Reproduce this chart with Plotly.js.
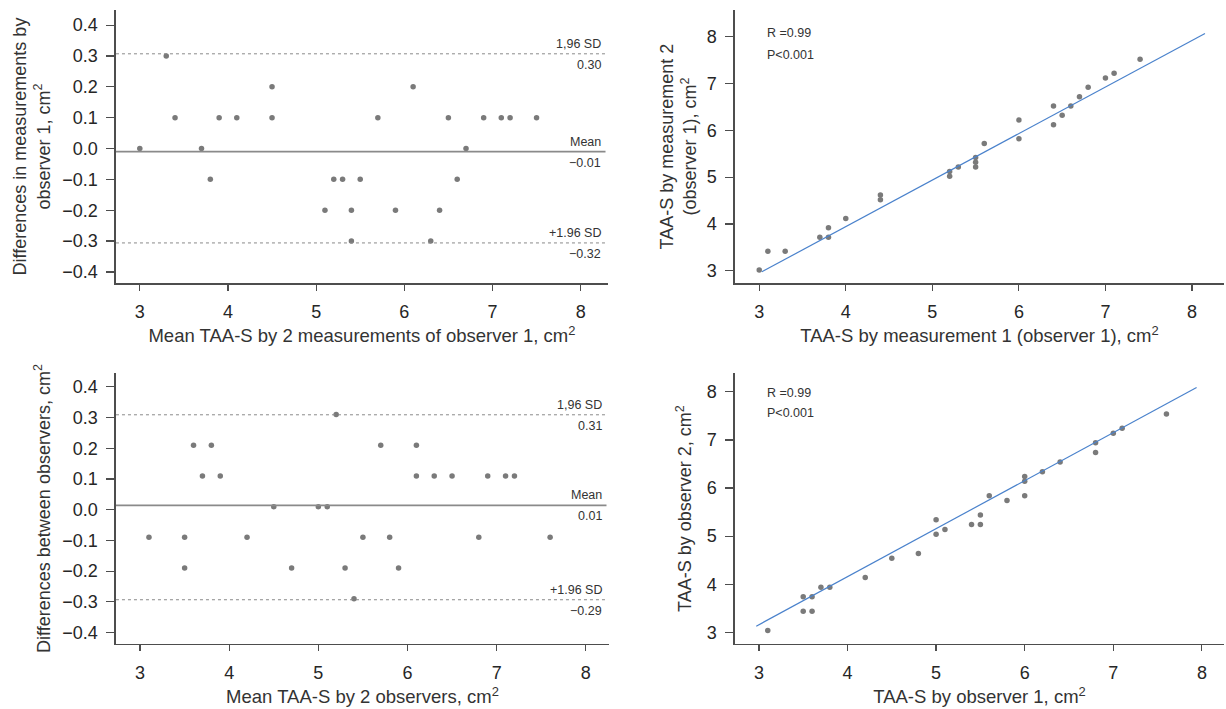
<!DOCTYPE html>
<html>
<head>
<meta charset="utf-8">
<script src="https://cdn.plot.ly/plotly-3.0.1.min.js"></script>
<style>html,body{margin:0;padding:0;background:#fff}#chart{width:1226px;height:709px}</style>
</head>
<body>
<div id="chart"></div>
<script>
// Panel A: Bland-Altman, intra-observer (observer 1)
const ba1X = [3.0,3.3,3.4,3.7,3.8,3.9,4.1,4.5,4.5,5.1,5.2,5.3,5.4,5.4,5.5,5.7,5.9,6.1,6.3,6.4,6.5,6.6,6.7,6.9,7.1,7.2,7.5];
const ba1Y = [0.0,0.3,0.1,0.0,-0.1,0.1,0.1,0.2,0.1,-0.2,-0.1,-0.1,-0.2,-0.3,-0.1,0.1,-0.2,0.2,-0.3,-0.2,0.1,-0.1,0.0,0.1,0.1,0.1,0.1];
const ba1Lines = [0.307, -0.01, -0.306];
const ba1Names = ["1,96 SD", "Mean", "+1.96 SD"];
const ba1Values = ["0.30", "\u22120.01", "\u22120.32"];

// Panel B: measurement 1 vs measurement 2 (observer 1)
const sc1X = [3.0,3.1,3.3,3.7,3.8,3.8,4.0,4.4,4.4,5.2,5.2,5.3,5.5,5.5,5.5,5.6,6.0,6.0,6.4,6.4,6.5,6.6,6.7,6.8,7.0,7.1,7.4];
const sc1Y = [3.02,3.42,3.42,3.72,3.72,3.92,4.12,4.62,4.52,5.12,5.02,5.22,5.42,5.32,5.22,5.72,6.22,5.82,6.52,6.12,6.32,6.52,6.72,6.92,7.12,7.22,7.52];
const fit1X = [3.03, 8.15];
const fit1Y = [2.98, 8.07];

// Panel C: Bland-Altman, inter-observer
const ba2X = [3.1,3.5,3.5,3.6,3.7,3.8,3.9,4.2,4.5,4.7,5.0,5.1,5.2,5.3,5.4,5.5,5.7,5.8,5.9,6.1,6.1,6.3,6.5,6.8,6.9,7.1,7.2,7.6];
const ba2Y = [-0.09,-0.09,-0.19,0.21,0.11,0.21,0.11,-0.09,0.01,-0.19,0.01,0.01,0.31,-0.19,-0.29,-0.09,0.21,-0.09,-0.19,0.21,0.11,0.11,0.11,-0.09,0.11,0.11,0.11,-0.09];
const ba2Lines = [0.309, 0.014, -0.293];
const ba2Names = ["1,96 SD", "Mean", "+1.96 SD"];
const ba2Values = ["0.31", "0.01", "\u22120.29"];

// Panel D: observer 1 vs observer 2
const sc2X = [3.1,3.5,3.5,3.6,3.6,3.7,3.8,4.2,4.5,4.8,5.0,5.0,5.1,5.4,5.5,5.5,5.6,5.8,6.0,6.0,6.0,6.2,6.4,6.8,6.8,7.0,7.1,7.6];
const sc2Y = [3.04,3.74,3.44,3.74,3.44,3.94,3.94,4.14,4.54,4.64,5.34,5.04,5.14,5.24,5.24,5.44,5.84,5.74,6.24,6.14,5.84,6.34,6.54,6.94,6.74,7.14,7.24,7.54];
const fit2X = [2.97, 7.94];
const fit2Y = [3.13, 8.09];

const statsText = ["R =0.99", "P<0.001"];
const xTicks = [3, 4, 5, 6, 7, 8];
const yTicksScatter = [3, 4, 5, 6, 7, 8];
const yTicksDiff = [-0.4, -0.3, -0.2, -0.1, 0, 0.1, 0.2, 0.3, 0.4];

const FONT = "Liberation Sans, Arial, Helvetica, sans-serif";
const dot = {color: "#7a7a7a", size: 5.5};
const fitLine = {color: "#4a82cc", width: 1.2};

const traces = [
  {x: ba1X, y: ba1Y, xaxis: "x", yaxis: "y", mode: "markers", type: "scatter", marker: dot},
  {x: sc1X, y: sc1Y, xaxis: "x2", yaxis: "y2", mode: "markers", type: "scatter", marker: dot},
  {x: fit1X, y: fit1Y, xaxis: "x2", yaxis: "y2", mode: "lines", type: "scatter", line: fitLine},
  {x: ba2X, y: ba2Y, xaxis: "x3", yaxis: "y3", mode: "markers", type: "scatter", marker: dot},
  {x: sc2X, y: sc2Y, xaxis: "x4", yaxis: "y4", mode: "markers", type: "scatter", marker: dot},
  {x: fit2X, y: fit2Y, xaxis: "x4", yaxis: "y4", mode: "lines", type: "scatter", line: fitLine}
];

function axis(opts) {
  return Object.assign({
    showgrid: false, zeroline: false, showline: true, linecolor: "#4d4d4d", linewidth: 1.5,
    ticks: "outside", ticklen: 6, tickwidth: 1.2, tickcolor: "#4d4d4d",
    tickfont: {family: FONT, size: 18, color: "#262626"},
    automargin: false, fixedrange: true
  }, opts);
}
function title(text, standoff, size) {
  return {text: text, font: {family: FONT, size: size, color: "#333"}, standoff: standoff};
}

const shapes = [];
const annotations = [];
function addRefLines(xa, ya, vals, names, labels) {
  vals.forEach((v, i) => {
    shapes.push({type: "line", xref: xa + " domain", yref: ya, x0: 0, x1: 0.995, y0: v, y1: v,
      line: {color: "#8a8a8a", width: i === 1 ? 1.6 : 1, dash: i === 1 ? "solid" : "dot"}});
    annotations.push({xref: xa + " domain", yref: ya, x: 0.99, y: v, xanchor: "right", yanchor: "bottom",
      yshift: 1, text: names[i], showarrow: false, font: {family: FONT, size: 12.5, color: "#333"}});
    annotations.push({xref: xa + " domain", yref: ya, x: 0.99, y: v, xanchor: "right", yanchor: "top",
      yshift: -2, text: labels[i], showarrow: false, font: {family: FONT, size: 12.5, color: "#333"}});
  });
}
addRefLines("x", "y", ba1Lines, ba1Names, ba1Values);
addRefLines("x3", "y3", ba2Lines, ba2Names, ba2Values);

function addStats(xa, ya, x, ys) {
  statsText.forEach((t, i) => {
    annotations.push({xref: xa, yref: ya, x: x, y: ys[i], xanchor: "left", yanchor: "middle",
      text: t, showarrow: false, font: {family: FONT, size: 12.5, color: "#333"}});
  });
}
addStats("x2", "y2", 3.07, [8.08, 7.61]);
addStats("x4", "y4", 3.07, [7.97, 7.55]);

const layout = {
  width: 1226, height: 709,
  margin: {l: 0, r: 0, t: 0, b: 0},
  paper_bgcolor: "#fff", plot_bgcolor: "#fff",
  showlegend: false,
  font: {family: FONT, color: "#333"},
  xaxis: axis({domain: [0.0946, 0.4959], anchor: "y", range: [2.73, 8.31], tickvals: xTicks, ticklabelstandoff: 6,
    title: title("Mean TAA-S by 2 measurements of observer 1, cm<sup>2</sup>", 8, 18.5)}),
  yaxis: axis({domain: [0.6008, 0.9859], anchor: "x", range: [-0.436, 0.449], tickvals: yTicksDiff, tickformat: ".1f", ticklen: 8, ticklabelstandoff: 5,
    title: title("Differences in measurements by<br>observer 1, cm<sup>2</sup>", 7, 18)}),
  xaxis2: axis({domain: [0.5995, 0.9984], anchor: "y2", range: [2.72, 8.37], tickvals: xTicks, ticklabelstandoff: 6,
    title: title("TAA-S by measurement 1 (observer 1), cm<sup>2</sup>", 8, 18.5)}),
  yaxis2: axis({domain: [0.6008, 0.9859], anchor: "x2", range: [2.74, 8.57], tickvals: yTicksScatter, ticklen: 8, ticklabelstandoff: 5,
    title: title("TAA-S by measurement 2<br>(observer 1), cm<sup>2</sup>", 5, 18)}),
  xaxis3: axis({domain: [0.0946, 0.4967], anchor: "y3", range: [2.73, 8.26], tickvals: xTicks, ticklabelstandoff: 6,
    title: title("Mean TAA-S by 2 observers, cm<sup>2</sup>", 8, 18.5)}),
  yaxis3: axis({domain: [0.0917, 0.4739], anchor: "x3", range: [-0.437, 0.445], tickvals: yTicksDiff, tickformat: ".1f", ticklen: 8, ticklabelstandoff: 5,
    title: title("Differences between observers, cm<sup>2</sup>", 7, 18)}),
  xaxis4: axis({domain: [0.5995, 0.9984], anchor: "y4", range: [2.73, 8.25], tickvals: xTicks, ticklabelstandoff: 6,
    title: title("TAA-S by observer 1, cm<sup>2</sup>", 8, 18.5)}),
  yaxis4: axis({domain: [0.0917, 0.4739], anchor: "x4", range: [2.76, 8.39], tickvals: yTicksScatter, ticklen: 8, ticklabelstandoff: 5,
    title: title("TAA-S by observer 2, cm<sup>2</sup>", 10, 18)}),
  shapes: shapes,
  annotations: annotations
};

Plotly.newPlot("chart", traces, layout, {displayModeBar: false, staticPlot: true});
</script>
</body>
</html>
